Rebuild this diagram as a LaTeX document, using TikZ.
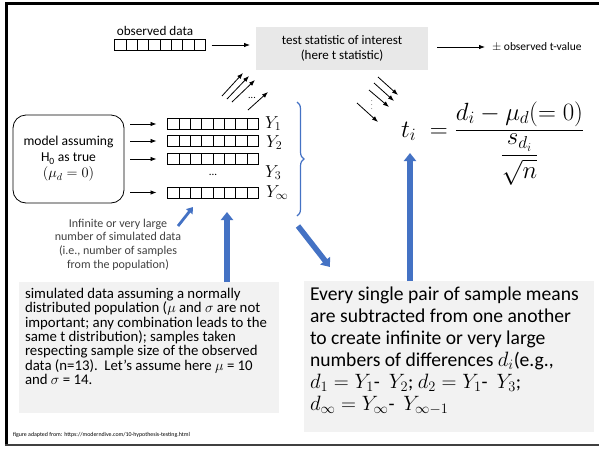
\documentclass[tikz,border=0pt]{standalone}
\usepackage{fontspec}
\setmainfont{Carlito}
\usepackage{amsmath}
\usetikzlibrary{shapes.geometric}
\usetikzlibrary{arrows.meta,shapes,calc,decorations.pathreplacing}

\definecolor{officeblue}{RGB}{68,114,196}
\definecolor{lightbox}{RGB}{242,242,242}
\definecolor{statbox}{RGB}{232,232,232}
\definecolor{notegray}{RGB}{64,64,64}

\begin{document}
\begin{tikzpicture}[x=1pt, y=-1pt,
                    every node/.style = {inner sep=0pt, outer sep=0pt},
                    datarow/.style = {draw, line width=0.7pt, minimum width=91pt, minimum height=11pt,
                        path picture = {\foreach \k in {1,...,7}
                            \draw[line width=0.7pt] ([xshift=\k*11.375pt]path picture bounding box.south west)
                                -- ([xshift=\k*11.375pt]path picture bounding box.north west);}},
                    thinarrow/.style = {-{Latex[length=6pt, width=4.5pt]}, line width=0.8pt},
                    bluearrow/.style = {-{Triangle[length=8pt, width=12pt]}, line width=5.5pt, officeblue},
                    smallblue/.style = {-{Triangle[length=6pt, width=8pt]}, line width=2.8pt, officeblue},
                    graybox/.style = {fill=lightbox, anchor=north west, inner xsep=6pt, inner ysep=#1}]
    \useasboundingbox (0,0) rectangle (599,448);
    \draw[line width=3pt] (599,3.5) -- (6.5,3.5) -- (6.5,446);
    \draw[line width=2pt, black!75] (5,444.5) -- (599,444.5);

    % observed data and test statistic
    \node (obs) at (155,31) {\fontsize{13.2}{15}\selectfont observed data};
    \node[datarow] (orow) at (160,45) {};
    \node[fill=statbox, minimum width=172pt, minimum height=43pt, align=center,
          font=\fontsize{13}{15.5}\selectfont] (stat) at (342,48.5) {test statistic of interest\\(here t statistic)};
    \node[anchor=west, font=\fontsize{11.5}{14}\selectfont] (tval) at (492,47) {$\pm$ observed t-value};
    \draw[thinarrow] ([xshift=6pt]orow.east) -- ($(stat.west |- orow.east)+(-6,0)$);
    \draw[thinarrow] ([xshift=9pt]stat.east |- tval.west) -- ([xshift=-7pt]tval.west);

    % model and simulated samples
    \node[draw, rounded corners=13pt, line width=0.8pt, minimum width=111pt, minimum height=88pt,
          align=center, font=\fontsize{13.6}{16}\selectfont] (model) at (68.5,159)
          {model assuming\\H\textsubscript{0} as true\\$(\mu_d = 0)$};
    \node[datarow] (r1) at (213,124) {};
    \node[datarow] (r2) at (213,141) {};
    \node[datarow] (r3) at (213,159) {};
    \node[datarow] (r4) at (213,192.5) {};
    \node[font=\fontsize{11}{12}\selectfont] (rdots) at (213,175) {...};
    \foreach \row in {r1,r2,r3,r4}
        \draw[thinarrow] ($(model.east |- \row.west)+(6,0)$) -- ([xshift=-11pt]\row.west);
    \node[anchor=base west, font=\fontsize{17}{20}\selectfont] (y1) at (265,128) {$Y_1$};
    \node[anchor=base west, font=\fontsize{17}{20}\selectfont] (y2) at (266,147) {$Y_2$};
    \node[anchor=base west, font=\fontsize{17}{20}\selectfont] (y3) at (265,177) {$Y_3$};
    \node[anchor=base west, font=\fontsize{17}{20}\selectfont] (yinf) at (266,197) {$Y_\infty$};
    \coordinate (brtop) at (297,102);
    \coordinate (brbot) at (297,216);
    \draw[officeblue, line width=1.2pt, decorate, decoration={brace, amplitude=7pt}] (brtop) -- (brbot);

    \node[align=center, text=notegray, font=\fontsize{12}{13.6}\selectfont] (note) at (118,244.5)
          {Infinite or very large\\number of simulated data\\(i.e., number of samples\\from the population)};
    \coordinate (notetip) at (193,207);
    \draw[smallblue] (178,226) -- (notetip);

    % arrows towards and from the statistic
    \foreach \sx/\sy/\ex/\ey in {222/96/243/73, 227/99/249/76, 232/102/255/80, 248/110/268/92}
        \draw[thinarrow] (\sx,\sy) -- (\ex,\ey);
    \node[font=\fontsize{10}{12}\selectfont] (updots) at (252,98) {...};
    \foreach \sx/\sy/\ex/\ey in {378/77/398/95, 374/83/394/101, 369/90/389/107, 357/103/378/122}
        \draw[thinarrow] (\sx,\sy) -- (\ex,\ey);
    \node[font=\fontsize{6}{7}\selectfont] (downdots) at (372,102) {$\vdots$};

    % t statistic
    \node[anchor=base west, font=\fontsize{25}{30}\selectfont] (tstat) at (401,137)
          {$\displaystyle t_i \;= \frac{d_i - \mu_d(=0)}{\dfrac{s_{d_i}}{\sqrt{n}}}$};

    % explanation boxes
    \node[graybox=6pt] (simbox) at (19,282)
          {\parbox[t][119pt][t]{248pt}{\fontsize{14.8}{14.4}\selectfont\raggedright
           simulated data assuming a normally\\
           distributed population ($\mu$ and $\sigma$ are not\\
           important; any combination leads to the\\
           same t distribution); samples taken\\
           respecting sample size of the observed\\
           data (n=13).\ \ Let’s assume here $\mu$ = 10\\
           and $\sigma$ = 14.}};
    \node[graybox=6pt] (diffbox) at (304,281)
          {\parbox[t][139pt][t]{278pt}{\fontsize{19.6}{22}\selectfont\raggedright
           \mbox{Every single pair of sample means}\\
           \mbox{are subtracted from one another}\\
           \mbox{to create infinite or very large}\\
           \mbox{numbers of differences $d_i$(e.g.,}\\
           $d_1 = Y_1$- \ $Y_2$;\ $d_2 = Y_1$- \ $Y_3$;\\
           $d_\infty = Y_\infty$- \ $Y_{\infty-1}$}};
    \coordinate (diagtip) at (330,267);
    \draw[bluearrow] (298,226) -- (diagtip);
    \draw[bluearrow] (simbox.north -| 227,0) -- (227,212);
    \draw[bluearrow] (diffbox.north -| 410,0) -- (410,153);

    \node[anchor=west, font=\fontsize{5.9}{6}\selectfont] (credit) at (13,435)
          {figure adapted from: https://moderndive.com/10-hypothesis-testing.html};
\end{tikzpicture}
\end{document}
